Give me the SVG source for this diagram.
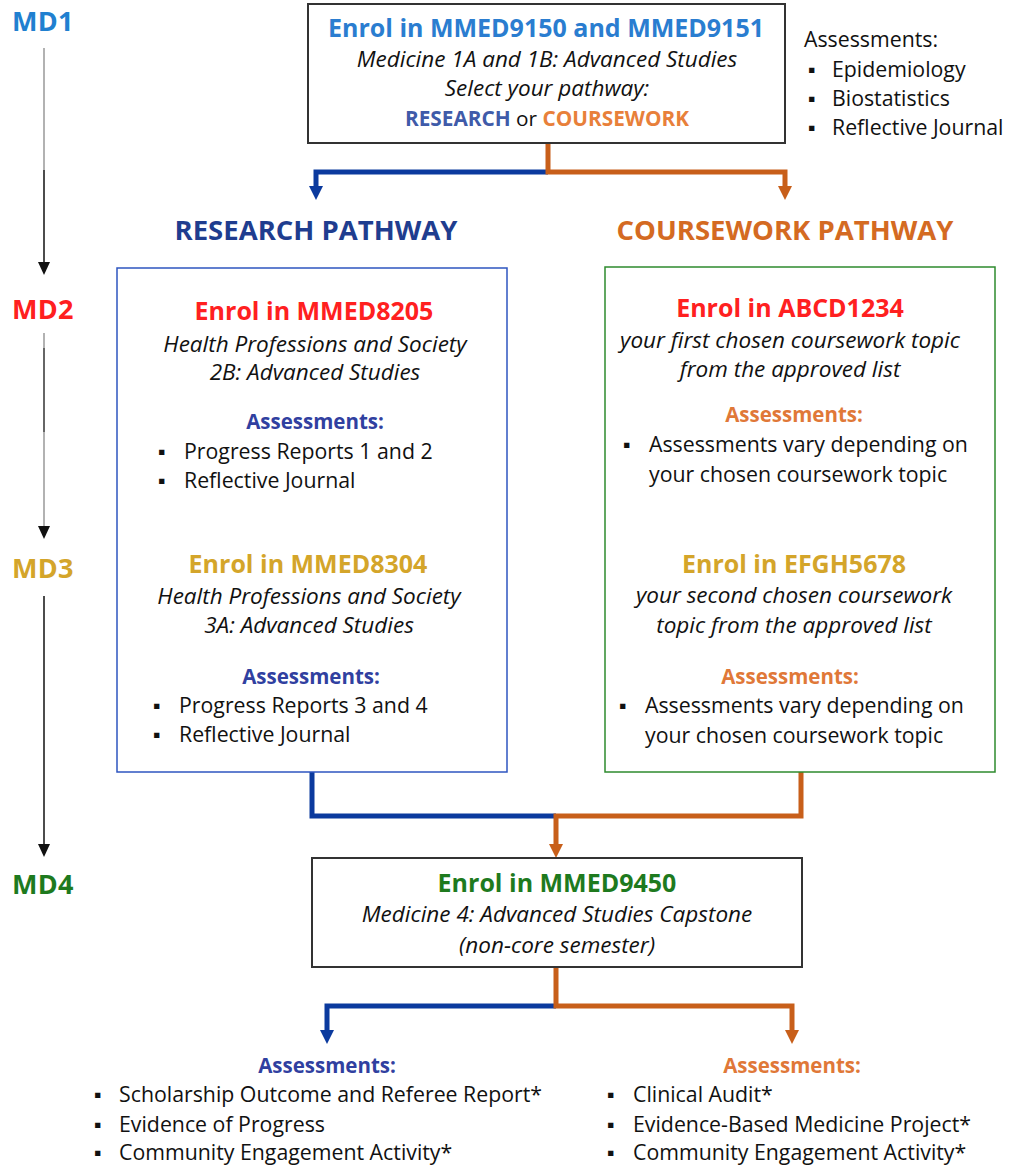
<svg xmlns="http://www.w3.org/2000/svg" width="1010" height="1166" viewBox="0 0 1010 1166">
<defs>
<style>
text{font-family:"Open Sans","Noto Sans","Liberation Sans",sans-serif;fill:#111}
.md{font-size:27px;font-weight:bold;letter-spacing:0.3px}
.h{font-size:25px;font-weight:bold}
.i{font-size:22.5px;font-style:italic}
.b{font-size:21.3px}
.a{font-size:20.5px;font-weight:bold}
.c{text-anchor:middle}
.pw{font-size:27.5px;font-weight:bold;text-anchor:middle}
.box{fill:#fff;stroke-width:2}
.cb{fill:none;stroke:#0B3A9E;stroke-width:5}
.co{fill:none;stroke:#C85F1A;stroke-width:5}
.tl{stroke:#111;stroke-width:1.5}
</style>
</defs>

<g id="timeline">
<text class="md" x="12" y="31" style="fill:#2080D0">MD1</text>
<line class="tl" x1="44" y1="48" x2="44" y2="170" style="stroke:#999"/>
<line class="tl" x1="44" y1="170" x2="44" y2="264"/>
<path d="M38,262 L50,262 L44,275 Z" fill="#111"/>
<text class="md" x="12" y="319" style="fill:#FF2020">MD2</text>
<line class="tl" x1="44" y1="333" x2="44" y2="348" style="stroke:#999"/>
<line class="tl" x1="44" y1="348" x2="44" y2="432" style="stroke:#333"/>
<line class="tl" x1="44" y1="432" x2="44" y2="528" style="stroke:#999"/>
<path d="M38,526 L50,526 L44,539 Z" fill="#111"/>
<text class="md" x="12" y="578" style="fill:#D4A52A">MD3</text>
<line class="tl" x1="44" y1="596" x2="44" y2="846"/>
<path d="M38,844 L50,844 L44,857 Z" fill="#111"/>
<text class="md" x="12" y="894" style="fill:#1E7A1E">MD4</text>
</g>

<g id="connectors">
<polyline class="cb" points="548,172 316,172 316,188"/>
<path d="M309,186 L323,186 L316,200 Z" fill="#0B3A9E"/>
<polyline class="co" points="548,143 548,172 785,172 785,188"/>
<path d="M778,186 L792,186 L785,200 Z" fill="#C85F1A"/>
<polyline class="cb" points="312,772 312,816 556,816"/>
<polyline class="co" points="801,772 801,816 556,816 556,846"/>
<path d="M549,844 L563,844 L556,858 Z" fill="#C85F1A"/>
<polyline class="cb" points="556,1006 327,1006 327,1032"/>
<path d="M320,1030 L334,1030 L327,1044 Z" fill="#0B3A9E"/>
<polyline class="co" points="556,967 556,1006 792,1006 792,1032"/>
<path d="M785,1030 L799,1030 L792,1044 Z" fill="#C85F1A"/>
</g>

<g id="node-md1">
<rect class="box" x="308" y="4" width="477" height="139" stroke="#333"/>
<text class="h c" x="546" y="37" style="fill:#2A7DD0">Enrol in MMED9150 and MMED9151</text>
<text class="i c" x="547" y="67">Medicine 1A and 1B: Advanced Studies</text>
<text class="i c" x="547" y="96">Select your pathway:</text>
<text class="b c" x="547" y="126" style="font-weight:bold;font-size:20.8px"><tspan style="fill:#3F5BA9">RESEARCH</tspan> <tspan style="font-weight:normal">or</tspan> <tspan style="fill:#E8803A">COURSEWORK</tspan></text>
</g>

<g id="md1-assessments">
<text class="b" x="804" y="47">Assessments:</text>
<text class="b" x="808" y="77">▪</text><text class="b" x="832" y="77">Epidemiology</text>
<text class="b" x="808" y="106">▪</text><text class="b" x="832" y="106">Biostatistics</text>
<text class="b" x="808" y="135">▪</text><text class="b" x="832" y="135">Reflective Journal</text>
</g>

<g id="research-label"><text class="pw" x="316" y="240" style="fill:#1F3D8F">RESEARCH PATHWAY</text></g>
<g id="coursework-label"><text class="pw" x="785" y="240" style="fill:#D46A22">COURSEWORK PATHWAY</text></g>

<g id="node-research">
<rect class="box" x="117" y="268" width="390" height="504" stroke="#2E55C0" style="stroke-width:1.5"/>
<text class="h c" x="314" y="320" style="fill:#FF2020">Enrol in MMED8205</text>
<text class="i c" x="315" y="352">Health Professions and Society</text>
<text class="i c" x="315" y="380">2B: Advanced Studies</text>
<text class="a c" x="315" y="429" style="fill:#3040A0">Assessments:</text>
<text class="b" x="158" y="459">▪</text><text class="b" x="184" y="459">Progress Reports 1 and 2</text>
<text class="b" x="158" y="488">▪</text><text class="b" x="184" y="488">Reflective Journal</text>
<text class="h c" x="308" y="573" style="fill:#D4A52A">Enrol in MMED8304</text>
<text class="i c" x="309" y="604">Health Professions and Society</text>
<text class="i c" x="309" y="633">3A: Advanced Studies</text>
<text class="a c" x="311" y="684" style="fill:#3040A0">Assessments:</text>
<text class="b" x="153" y="713">▪</text><text class="b" x="179" y="713">Progress Reports 3 and 4</text>
<text class="b" x="153" y="742">▪</text><text class="b" x="179" y="742">Reflective Journal</text>
</g>

<g id="node-coursework">
<rect class="box" x="605" y="267" width="390" height="505" stroke="#2E8B2E" style="stroke-width:1.5"/>
<text class="h c" x="790" y="317" style="fill:#FF2020">Enrol in ABCD1234</text>
<text class="i c" x="790" y="348">your first chosen coursework topic</text>
<text class="i c" x="790" y="377">from the approved list</text>
<text class="a c" x="794" y="422" style="fill:#E07838">Assessments:</text>
<text class="b" x="623" y="452">▪</text><text class="b" x="649" y="452">Assessments vary depending on</text>
<text class="b" x="649" y="482">your chosen coursework topic</text>
<text class="h c" x="794" y="573" style="fill:#D4A52A">Enrol in EFGH5678</text>
<text class="i c" x="794" y="603">your second chosen coursework</text>
<text class="i c" x="794" y="633">topic from the approved list</text>
<text class="a c" x="790" y="684" style="fill:#E07838">Assessments:</text>
<text class="b" x="619" y="713">▪</text><text class="b" x="645" y="713">Assessments vary depending on</text>
<text class="b" x="645" y="743">your chosen coursework topic</text>
</g>

<g id="node-md4">
<rect class="box" x="312" y="858" width="490" height="109" stroke="#333"/>
<text class="h c" x="557" y="892" style="fill:#1E7A1E">Enrol in MMED9450</text>
<text class="i c" x="557" y="922">Medicine 4: Advanced Studies Capstone</text>
<text class="i c" x="557" y="953">(non-core semester)</text>
</g>

<g id="research-final">
<text class="a c" x="327" y="1073" style="fill:#3040A0">Assessments:</text>
<text class="b" x="94" y="1102">▪</text><text class="b" x="119" y="1102">Scholarship Outcome and Referee Report*</text>
<text class="b" x="94" y="1132">▪</text><text class="b" x="119" y="1132">Evidence of Progress</text>
<text class="b" x="94" y="1160">▪</text><text class="b" x="119" y="1160">Community Engagement Activity*</text>
</g>

<g id="coursework-final">
<text class="a c" x="792" y="1073" style="fill:#E07838">Assessments:</text>
<text class="b" x="607" y="1102">▪</text><text class="b" x="633" y="1102">Clinical Audit*</text>
<text class="b" x="607" y="1132">▪</text><text class="b" x="633" y="1132">Evidence-Based Medicine Project*</text>
<text class="b" x="607" y="1160">▪</text><text class="b" x="633" y="1160">Community Engagement Activity*</text>
</g>
</svg>
